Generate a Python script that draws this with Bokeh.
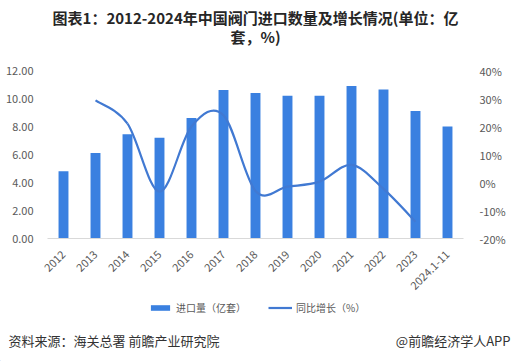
from bokeh.plotting import figure
from bokeh.layouts import column
from bokeh.models import (Range1d, LinearAxis, FixedTicker, Legend, LegendItem,
                          NumeralTickFormatter, ColumnDataSource)
from bokeh.core.properties import value
from bokeh.embed import file_html
from bokeh.resources import INLINE
import math

years = ["2012", "2013", "2014", "2015", "2016", "2017", "2018", "2019",
         "2020", "2021", "2022", "2023", "2024.1-11"]
imports = [4.8, 6.1, 7.45, 7.2, 8.6, 10.6, 10.4, 10.2, 10.2, 10.9, 10.65, 9.1, 8.0]
growth = [None, 29.3, 21.0, -3.3, 20.0, 24.0, -3.0, -1.5, 0.3, 6.3, -2.3, -14.0, None]
left_ticks = [0, 2, 4, 6, 8, 10, 12]
right_ticks = [-20, -10, 0, 10, 20, 30, 40]

title1 = "图表1：2012-2024年中国阀门进口数量及增长情况(单位：亿"
title2 = "套，%)"
series_names = ["进口量（亿套）", "同比增长（%）"]
source_text = "资料来源：海关总署 前瞻产业研究院"
brand_text = "@前瞻经济学人APP"

FONT = "Noto Sans CJK SC"
BAR = "#3a80e0"
LINE = "#4179d2"
GRAY = "#595959"
W = 511


def text_fig(h):
    f = figure(width=W, height=h, output_backend="svg", toolbar_location=None,
               x_range=Range1d(0, W), y_range=Range1d(0, h),
               x_axis_location=None, y_axis_location=None,
               min_border=0, min_border_left=0, min_border_right=0,
               min_border_top=0, min_border_bottom=0)
    f.outline_line_color = None
    f.xgrid.visible = False
    f.ygrid.visible = False
    return f


# ---- title ----
TH = 58
pt = text_fig(TH)
pt.text(x=[255, 255], y=[TH - 17, TH - 36], text=[title1, title2],
        text_font=value(FONT), text_font_size="15px", text_font_style="bold",
        text_align="center", text_baseline="middle", text_color="#262626")

# ---- chart ----
p = figure(width=W, height=238, output_backend="svg", toolbar_location=None,
           x_range=Range1d(-0.5, len(years) - 0.5), y_range=Range1d(0, 12),
           min_border_left=47, min_border_right=48, min_border_top=12,
           min_border_bottom=56)
p.outline_line_color = None
p.xgrid.visible = False
p.ygrid.visible = False
p.extra_y_ranges = {"pct": Range1d(-20, 40)}

xs = list(range(len(years)))
src = ColumnDataSource(dict(x=xs, top=imports))
p.vbar(x="x", top="top", width=0.31, source=src, fill_color=BAR, line_color=None)

# smooth growth curve (Catmull-Rom bezier segments through the data points)
pts = [(i, g) for i, g in enumerate(growth) if g is not None]
x0s, y0s, x1s, y1s, cx0, cy0, cx1, cy1 = [], [], [], [], [], [], [], []
for k in range(len(pts) - 1):
    pa = pts[k - 1] if k > 0 else pts[k]
    pb = pts[k]
    pc = pts[k + 1]
    pd = pts[k + 2] if k + 2 < len(pts) else pts[k + 1]
    x0s.append(pb[0]); y0s.append(pb[1])
    x1s.append(pc[0]); y1s.append(pc[1])
    cx0.append(pb[0] + (pc[0] - pa[0]) / 6.0); cy0.append(pb[1] + (pc[1] - pa[1]) / 6.0)
    cx1.append(pc[0] - (pd[0] - pb[0]) / 6.0); cy1.append(pc[1] - (pd[1] - pb[1]) / 6.0)
p.bezier(x0=x0s, y0=y0s, x1=x1s, y1=y1s, cx0=cx0, cy0=cy0, cx1=cx1, cy1=cy1,
         line_color=LINE, line_width=2.2, y_range_name="pct")

p.xaxis.ticker = FixedTicker(ticks=xs)
p.xaxis.major_label_overrides = {i: y for i, y in enumerate(years)}
p.xaxis.major_label_orientation = math.pi / 4
p.xaxis.major_label_standoff = 8
p.xaxis.major_tick_line_color = None
p.xaxis.minor_tick_line_color = None
p.xaxis.axis_line_color = "#d9d9d9"
p.xaxis.major_label_text_font = FONT
p.xaxis.major_label_text_font_size = "11px"
p.xaxis.major_label_text_color = GRAY

p.yaxis.ticker = FixedTicker(ticks=left_ticks)
p.yaxis.formatter = NumeralTickFormatter(format="0.00")
p.yaxis.axis_line_color = None
p.yaxis.major_tick_line_color = None
p.yaxis.minor_tick_line_color = None
p.yaxis.major_label_standoff = 8
p.yaxis.major_label_text_font = FONT
p.yaxis.major_label_text_font_size = "11px"
p.yaxis.major_label_text_color = GRAY

ax2 = LinearAxis(y_range_name="pct", ticker=FixedTicker(ticks=right_ticks))
ax2.major_label_overrides = {v: f"{v}%" for v in right_ticks}
ax2.axis_line_color = None
ax2.major_tick_line_color = None
ax2.minor_tick_line_color = None
ax2.major_label_standoff = 10
ax2.major_label_text_font = FONT
ax2.major_label_text_font_size = "11px"
ax2.major_label_text_color = GRAY
p.add_layout(ax2, "right")

# ---- legend + footer ----
FH = 65
pf = text_fig(FH)
# legend swatch renderers (placed outside the visible range; only their legend icons show)
leg_bar = pf.vbar(x=[-100], top=[1], width=1, fill_color=BAR, line_color=None)
leg_line = pf.line(x=[-100, -99], y=[1, 1], line_color=LINE, line_width=2.2)
legend = Legend(items=[LegendItem(label=series_names[0], renderers=[leg_bar]),
                       LegendItem(label=series_names[1], renderers=[leg_line])],
                orientation="horizontal", location=(148, 46),
                glyph_width=24, glyph_height=7, label_standoff=4, spacing=22,
                padding=0, margin=0, border_line_color=None, background_fill_alpha=0,
                label_text_font=FONT, label_text_font_size="10px", label_text_color=GRAY)
pf.add_layout(legend, "center")
pf.text(x=[8], y=[21], text=[source_text], text_font=value(FONT),
        text_font_size="13px", text_align="left", text_baseline="middle",
        text_color="#333333")
pf.text(x=[510], y=[21], text=[brand_text], text_font=value(FONT),
        text_font_size="13px", text_align="right", text_baseline="middle",
        text_color="#333333")

layout = column(column(pt), p, column(pf), spacing=0)
open("out.html", "w").write(file_html(layout, INLINE))
